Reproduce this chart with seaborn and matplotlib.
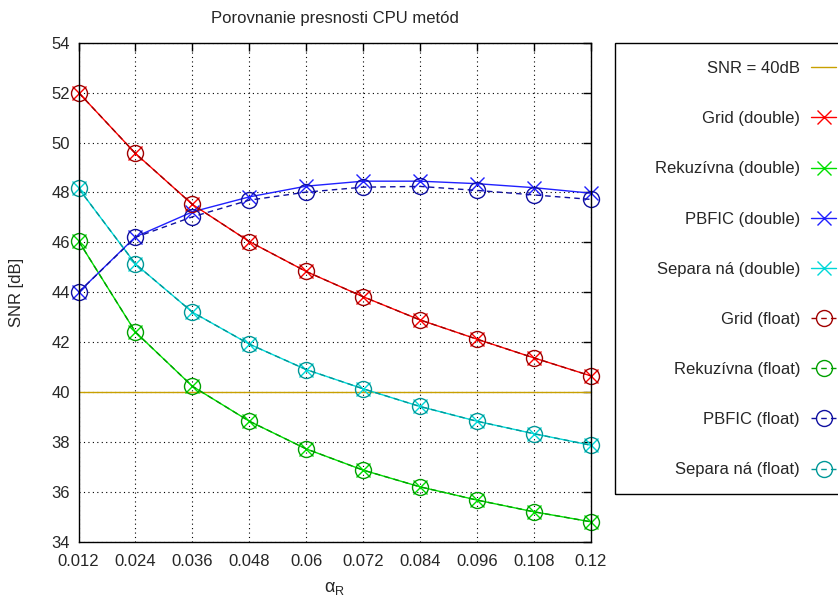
import matplotlib
matplotlib.use("Agg")
import matplotlib.pyplot as plt
import seaborn as sns
import pandas as pd
from matplotlib.patches import Rectangle
from matplotlib.lines import Line2D

sns.set_style("white")
plt.rcParams['font.family'] = ['Liberation Sans', 'DejaVu Sans']
plt.rcParams['mathtext.fontset'] = 'custom'
plt.rcParams['mathtext.rm'] = 'Liberation Sans'
plt.rcParams['mathtext.it'] = 'Liberation Sans'

alpha = [0.012, 0.024, 0.036, 0.048, 0.06, 0.072, 0.084, 0.096, 0.108, 0.12]
xtick_labels = ["0.012", "0.024", "0.036", "0.048", "0.06", "0.072", "0.084", "0.096", "0.108", "0.12"]
yticks = [34, 36, 38, 40, 42, 44, 46, 48, 50, 52, 54]

snr_ref = [40.0] * len(alpha)
grid_double = [52.0, 49.56, 47.52, 46.03, 44.83, 43.82, 42.89, 42.12, 41.37, 40.65]
rek_double = [46.05, 42.4, 40.23, 38.83, 37.72, 36.87, 36.2, 35.67, 35.2, 34.8]
pbfic_double = [44.0, 46.22, 47.22, 47.82, 48.25, 48.45, 48.45, 48.35, 48.19, 47.97]
sep_double = [48.16, 45.13, 43.2, 41.92, 40.9, 40.13, 39.42, 38.83, 38.33, 37.87]
grid_float = [52.0, 49.56, 47.52, 46.03, 44.83, 43.82, 42.89, 42.12, 41.37, 40.65]
rek_float = [46.05, 42.4, 40.23, 38.83, 37.72, 36.87, 36.2, 35.67, 35.2, 34.8]
pbfic_float = [44.0, 46.2, 47.02, 47.69, 48.01, 48.21, 48.24, 48.08, 47.9, 47.72]
sep_float = [48.16, 45.13, 43.2, 41.92, 40.9, 40.13, 39.42, 38.83, 38.33, 37.87]

labels = ["SNR = 40dB", "Grid (double)", "Rekuzívna (double)", "PBFIC (double)",
          "Separa ná (double)", "Grid (float)", "Rekuzívna (float)",
          "PBFIC (float)", "Separa ná (float)"]
series = [snr_ref, grid_double, rek_double, pbfic_double, sep_double,
          grid_float, rek_float, pbfic_float, sep_float]
colors = ["#c8a000", "#ff0000", "#00e000", "#2020ff", "#00d8d8",
          "#a00000", "#00a000", "#1010a0", "#009898"]
markers = [None, "x", "x", "x", "x", "o", "o", "o", "o"]
styles = ["-", "-", "-", "-", "-", (0, (4, 3)), (0, (4, 3)), (0, (4, 3)), (0, (4, 3))]

W, H = 838, 599
fig = plt.figure(figsize=(W / 100, H / 100), dpi=100)
ax = fig.add_axes([78.6 / W, 1 - 541.7 / H, (590.6 - 78.6) / W, (541.7 - 42.7) / H])

FS = 12
handles = []
for lab, ys, c, m, ls in zip(labels, series, colors, markers, styles):
    df = pd.DataFrame({"alpha": alpha, "snr": ys})
    kw = {}
    if m == "x":
        kw = dict(marker="x", markersize=10, markeredgewidth=1.0,
                  markeredgecolor=c)
    elif m == "o":
        kw = dict(marker="o", markersize=11.5, markerfacecolor="none",
                  markeredgecolor=c, markeredgewidth=1.0)
    sns.lineplot(data=df, x="alpha", y="snr", ax=ax, color=c, linewidth=1.0,
                 linestyle=ls, legend=False, clip_on=False, **kw)
    handles.append(Line2D([], [], color=c, linewidth=1.0, linestyle=ls,
                          marker=m if m else None,
                          markersize=10 if m == "x" else 11.5,
                          markerfacecolor="none", markeredgecolor=c,
                          markeredgewidth=1.0))

ax.set_xlim(0.012, 0.12)
ax.set_ylim(34, 54)
ax.set_xticks(alpha)
ax.set_xticklabels(xtick_labels, fontsize=FS)
ax.set_yticks(yticks)
ax.set_yticklabels([str(v) for v in yticks], fontsize=FS)
ax.tick_params(direction="in", length=6, width=1, top=True, right=True,
               color="black", pad=6)
ax.tick_params(axis="x", pad=9)
ax.grid(True, color="black", linestyle=(0, (1, 3)), linewidth=0.8)
for s in ax.spines.values():
    s.set_color("black")
    s.set_linewidth(1.0)
    s.set_zorder(5)

ax.set_xlabel(r"$\mathregular{\alpha_R}$", fontsize=FS + 1, labelpad=8)
ax.set_ylabel("SNR [dB]", fontsize=FS, labelpad=20)
ax.set_title("Porovnanie presnosti CPU metód", fontsize=FS, pad=14)

# legend frame (extends past figure edge like the reference)
fig.patches.append(Rectangle((614.6 / W, 1 - 494.3 / H), (900 - 614.6) / W,
                             (494.3 - 42.7) / H, transform=fig.transFigure,
                             fill=False, edgecolor="black", linewidth=1.0))

fig.legend(handles, labels, loc="center right", frameon=False, fontsize=FS,
           markerfirst=False, bbox_to_anchor=(836 / W, 1 - 269.2 / H),
           bbox_transform=fig.transFigure, borderpad=0, borderaxespad=0,
           handlelength=1.5, handletextpad=0.66, labelspacing=2.11)

fig.savefig("out.png", dpi=100)
